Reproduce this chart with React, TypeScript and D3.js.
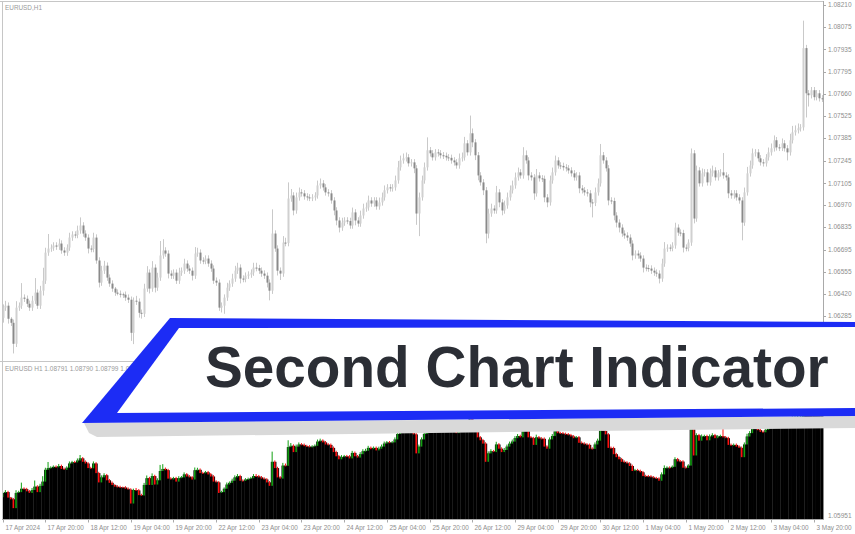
import React from 'react';
import * as d3 from 'd3';

const W = 855;
const H = 534;

const symbolTitle = 'EURUSD,H1';
const subTitle = 'EURUSD H1 1.08791 1.08790 1.08799 1.08790';
const bannerText = 'Second Chart Indicator';

const firstOpen = 1.06272;
const closes = [
  1.06335, 1.06347, 1.06266, 1.06241, 1.06111, 1.06335, 1.06347, 1.06397, 1.06390, 1.06359,
  1.06335, 1.06378, 1.06428, 1.06347, 1.06440, 1.06502, 1.06676, 1.06701, 1.06707, 1.06720,
  1.06713, 1.06732, 1.06689, 1.06676, 1.06707, 1.06769, 1.06788, 1.06785, 1.06813, 1.06844,
  1.06794, 1.06769, 1.06701, 1.06698, 1.06769, 1.06627, 1.06490, 1.06564, 1.06595, 1.06521,
  1.06484, 1.06453, 1.06428, 1.06421, 1.06418, 1.06415, 1.06397, 1.06384, 1.06179, 1.06378,
  1.06372, 1.06303, 1.06297, 1.06453, 1.06552, 1.06453, 1.06583, 1.06459, 1.06521, 1.06658,
  1.06689, 1.06670, 1.06546, 1.06533, 1.06552, 1.06502, 1.06552, 1.06564, 1.06608, 1.06577,
  1.06564, 1.06533, 1.06670, 1.06676, 1.06627, 1.06624, 1.06639, 1.06608, 1.06577, 1.06502,
  1.06490, 1.06335, 1.06347, 1.06397, 1.06459, 1.06484, 1.06515, 1.06564, 1.06583, 1.06515,
  1.06512, 1.06533, 1.06540, 1.06552, 1.06583, 1.06580, 1.06564, 1.06546, 1.06533, 1.06490,
  1.06440, 1.06794, 1.06701, 1.06564, 1.06546, 1.06738, 1.06735, 1.07011, 1.07030, 1.06937,
  1.07018, 1.07049, 1.07043, 1.07024, 1.07018, 1.07015, 1.07018, 1.07030, 1.07092, 1.07105,
  1.07080, 1.07049, 1.07043, 1.06999, 1.06937, 1.06875, 1.06831, 1.06862, 1.06875, 1.06872,
  1.06844, 1.06925, 1.06875, 1.06856, 1.06906, 1.06949, 1.06956, 1.06999, 1.06980, 1.06999,
  1.06962, 1.06987, 1.07018, 1.07062, 1.07080, 1.07074, 1.07080, 1.07123, 1.07204, 1.07247,
  1.07260, 1.07266, 1.07229, 1.07235, 1.07198, 1.06918, 1.07018, 1.07123, 1.07204, 1.07310,
  1.07291, 1.07266, 1.07297, 1.07291, 1.07279, 1.07276, 1.07266, 1.07263, 1.07247, 1.07235,
  1.07216, 1.07260, 1.07266, 1.07353, 1.07297, 1.07415, 1.07359, 1.07279, 1.07154, 1.07111,
  1.07062, 1.06794, 1.06918, 1.06949, 1.06937, 1.07049, 1.06987, 1.06937, 1.06968, 1.07018,
  1.07062, 1.07092, 1.07142, 1.07173, 1.07154, 1.07279, 1.07247, 1.07154, 1.07142, 1.07043,
  1.07154, 1.07136, 1.07133, 1.07018, 1.06987, 1.07123, 1.07173, 1.07247, 1.07216, 1.07213,
  1.07204, 1.07198, 1.07185, 1.07167, 1.07142, 1.07154, 1.07074, 1.07062, 1.07049, 1.07043,
  1.06987, 1.06984, 1.07049, 1.07105, 1.07279, 1.07247, 1.07198, 1.06999, 1.06996, 1.06906,
  1.06862, 1.06831, 1.06794, 1.06782, 1.06769, 1.06732, 1.06658, 1.06670, 1.06658, 1.06639,
  1.06583, 1.06580, 1.06577, 1.06564, 1.06552, 1.06546, 1.06515, 1.06608, 1.06701, 1.06707,
  1.06704, 1.06720, 1.06831, 1.06800, 1.06797, 1.06707, 1.06704, 1.06738, 1.07291, 1.06887,
  1.07185, 1.07105, 1.07167, 1.07173, 1.07111, 1.07167, 1.07185, 1.07142, 1.07167, 1.07173,
  1.07154, 1.07142, 1.07043, 1.07030, 1.07043, 1.07018, 1.06999, 1.06862, 1.07049, 1.07167,
  1.07216, 1.07291, 1.07297, 1.07260, 1.07235, 1.07229, 1.07266, 1.07297, 1.07322, 1.07372,
  1.07328, 1.07325, 1.07353, 1.07322, 1.07297, 1.07372, 1.07421, 1.07434, 1.07446, 1.07452,
  1.07943, 1.07663, 1.07651, 1.07682, 1.07639, 1.07663, 1.07632, 1.07629,
];

// wick lengths in pips, above the body and below the body
const wickUp = [
  2, 3, 2, 1, 2, 4, 2, 9, 2, 2, 2, 3, 9, 2, 3, 8, 3, 9, 2, 2,
  2, 3, 2, 2, 2, 3, 2, 2, 3, 5, 2, 2, 2, 2, 3, 2, 2, 3, 3, 2,
  2, 2, 1, 2, 2, 1, 2, 2, 2, 2, 3, 2, 2, 3, 4, 2, 4, 2, 3, 9,
  7, 2, 2, 2, 2, 2, 3, 2, 3, 2, 2, 2, 4, 3, 2, 2, 2, 2, 2, 2,
  2, 2, 2, 2, 3, 2, 3, 3, 3, 2, 2, 2, 2, 2, 3, 3, 2, 2, 2, 2,
  2, 15, 2, 2, 2, 4, 3, 10, 4, 2, 3, 3, 2, 2, 2, 2, 2, 2, 3, 3,
  2, 2, 2, 2, 2, 2, 2, 3, 2, 2, 2, 3, 2, 2, 3, 3, 3, 3, 2, 2,
  2, 3, 3, 3, 2, 2, 2, 3, 4, 3, 3, 3, 2, 2, 2, 2, 3, 3, 3, 8,
  2, 2, 2, 2, 2, 2, 2, 2, 2, 2, 2, 3, 3, 4, 2, 11, 3, 2, 2, 2,
  2, 2, 3, 3, 2, 4, 2, 2, 3, 3, 3, 3, 3, 3, 2, 5, 3, 2, 2, 2,
  4, 2, 2, 2, 2, 3, 3, 3, 2, 2, 2, 2, 2, 2, 2, 2, 2, 2, 2, 2,
  2, 2, 3, 3, 7, 2, 2, 2, 2, 2, 2, 2, 2, 2, 2, 2, 2, 2, 2, 2,
  2, 2, 2, 2, 2, 2, 2, 3, 4, 2, 2, 2, 3, 2, 2, 2, 2, 2, 3, 2,
  3, 2, 3, 2, 2, 3, 3, 2, 2, 2, 12, 2, 2, 2, 2, 2, 2, 2, 3, 4,
  3, 3, 2, 2, 2, 2, 2, 3, 3, 3, 2, 2, 3, 2, 2, 4, 4, 3, 3, 2,
  17, 2, 2, 2, 2, 2, 2, 2,
];
const wickDown = [
  3, 2, 3, 2, 6, 2, 2, 2, 2, 2, 2, 2, 2, 2, 2, 3, 2, 2, 2, 2,
  2, 2, 2, 2, 2, 2, 2, 2, 2, 2, 2, 2, 3, 2, 2, 2, 3, 2, 2, 2,
  2, 2, 2, 1, 2, 2, 2, 2, 5, 7, 2, 3, 3, 2, 2, 3, 2, 3, 2, 2,
  2, 2, 3, 2, 2, 2, 2, 2, 2, 2, 2, 3, 2, 2, 2, 2, 2, 2, 2, 2,
  2, 2, 3, 5, 2, 2, 2, 2, 2, 3, 2, 2, 2, 2, 2, 2, 2, 2, 2, 3,
  6, 2, 2, 3, 4, 2, 2, 2, 2, 3, 2, 2, 2, 2, 2, 2, 2, 2, 2, 2,
  2, 2, 2, 2, 3, 3, 3, 2, 2, 2, 2, 2, 3, 2, 2, 2, 2, 2, 2, 2,
  2, 2, 2, 2, 2, 2, 2, 2, 2, 2, 2, 2, 2, 2, 3, 7, 14, 2, 2, 2,
  2, 2, 2, 2, 2, 2, 2, 2, 2, 2, 2, 2, 2, 2, 2, 2, 3, 3, 3, 2,
  3, 6, 3, 2, 2, 2, 3, 3, 2, 2, 2, 2, 2, 2, 2, 2, 2, 3, 2, 4,
  2, 2, 2, 3, 3, 2, 2, 2, 2, 2, 2, 2, 2, 2, 2, 2, 3, 2, 2, 2,
  3, 9, 2, 2, 2, 2, 2, 3, 2, 3, 3, 3, 2, 2, 2, 2, 3, 2, 2, 2,
  3, 2, 2, 2, 2, 2, 3, 2, 2, 2, 2, 2, 2, 2, 2, 3, 2, 2, 2, 3,
  2, 2, 2, 2, 2, 2, 2, 2, 2, 2, 2, 2, 3, 2, 2, 2, 2, 11, 2, 2,
  2, 2, 2, 2, 2, 2, 2, 2, 2, 2, 2, 2, 2, 2, 5, 2, 2, 2, 2, 2,
  2, 15, 7, 2, 2, 2, 2, 2,
];

const upperTickLabels = [
  '1.08210', '1.08075', '1.07935', '1.07795', '1.07660', '1.07525', '1.07385', '1.07245',
  '1.07105', '1.06970', '1.06835', '1.06695', '1.06555', '1.06420', '1.06285',
];
const lowerMin = 1.05951;
const lowerMax = 1.08235;
const lowerTickLabels = ['1.05951'];

const timeLabels = [
  '17 Apr 2024', '17 Apr 20:00', '18 Apr 12:00', '19 Apr 04:00', '19 Apr 20:00', '22 Apr 12:00',
  '23 Apr 04:00', '23 Apr 20:00', '24 Apr 12:00', '25 Apr 04:00', '25 Apr 20:00', '26 Apr 12:00',
  '29 Apr 04:00', '29 Apr 20:00', '30 Apr 12:00', '1 May 04:00', '1 May 20:00', '2 May 12:00',
  '3 May 04:00', '3 May 20:00',
];
const barsPerTimeLabel = 16;

const PIP = 0.0001;
const FONT = "'Liberation Sans', Arial, sans-serif";

export default function App() {
  const bars = closes.map((c, i) => {
    const o = i === 0 ? firstOpen : closes[i - 1];
    return {
      o,
      c,
      h: Math.max(o, c) + wickUp[i] * PIP,
      l: Math.min(o, c) - wickDown[i] * PIP,
    };
  });

  const axisX = 823.5;
  const x = d3.scaleLinear().domain([0, 304]).range([2.7, 813.7]);
  const step = x(1) - x(0);
  const yU = d3
    .scaleLinear()
    .domain([+upperTickLabels[upperTickLabels.length - 1], +upperTickLabels[0]])
    .range([315.7, 5]);
  const lowerTop = 364;
  const lowerBottom = 519;
  const yL = d3.scaleLinear().domain([lowerMin, lowerMax]).range([lowerBottom, lowerTop]);

  const labelColor = '#8e8e8e';

  // banner geometry
  const outer = [
    [170, 318],
    [W, 322],
    [W, 416],
    [82, 423],
  ];
  const inner = [
    [179, 328],
    [W, 327],
    [W, 408],
    [117, 413],
  ];
  const shadow = [
    [84, 423],
    [W, 416],
    [W, 428],
    [97, 437],
    [89, 433],
  ];
  const poly = (pts: number[][]) => pts.map((p) => p.join(',')).join(' ');

  return (
    <svg
      width={W}
      height={H}
      viewBox={`0 0 ${W} ${H}`}
      style={{ position: 'fixed', left: 0, top: 0, display: 'block', background: '#fff' }}
    >
      <defs>
        <clipPath id="upperClip">
          <rect x={3} y={2} width={axisX - 3} height={359} />
        </clipPath>
        <clipPath id="lowerClip">
          <rect x={3} y={363} width={axisX - 3} height={lowerBottom - 363} />
        </clipPath>
      </defs>
      <rect x={0} y={0} width={W} height={H} fill="#ffffff" />

      {/* Upper chart frame */}
      <line x1={0} x2={axisX} y1={1.5} y2={1.5} stroke="#c6c6c6" />
      <line x1={2.5} x2={2.5} y1={1.5} y2={361.5} stroke="#c6c6c6" />
      <line x1={axisX} x2={axisX} y1={1} y2={361.5} stroke="#a9a9a9" />
      <text x={5} y={9.5} fontFamily={FONT} fontSize={6.4} fill="#9a9a9a">
        {symbolTitle}
      </text>

      {/* Upper price axis */}
      {upperTickLabels.map((t) => {
        const yy = yU(+t);
        return (
          <g key={t}>
            <line x1={axisX} x2={axisX + 2.5} y1={Math.round(yy) + 0.5} y2={Math.round(yy) + 0.5} stroke="#a9a9a9" />
            <text x={828} y={yy + 2.3} fontFamily={FONT} fontSize={6.5} fill={labelColor}>
              {t}
            </text>
          </g>
        );
      })}

      {/* Upper candles */}
      <g clipPath="url(#upperClip)">
        {bars.map((b, i) => {
          const cx = Math.round(x(i));
          const top = yU(Math.max(b.o, b.c));
          const bot = yU(Math.min(b.o, b.c));
          const up = b.c >= b.o;
          return (
            <g key={i}>
              <line x1={cx + 0.5} x2={cx + 0.5} y1={yU(b.h)} y2={yU(b.l)} stroke="#c9c9c9" strokeWidth={1} />
              <rect
                x={cx - 0.5}
                y={top}
                width={2}
                height={Math.max(1, bot - top)}
                fill={up ? '#d0d0d0' : '#8a8a8a'}
              />
            </g>
          );
        })}
      </g>

      {/* Lower panel frame */}
      <line x1={0} x2={axisX} y1={361.5} y2={361.5} stroke="#c6c6c6" />
      <line x1={2.5} x2={2.5} y1={361.5} y2={lowerBottom + 0.5} stroke="#c6c6c6" />
      <line x1={axisX} x2={axisX} y1={361.5} y2={lowerBottom + 1} stroke="#a9a9a9" />
      <text x={5} y={370.5} fontFamily={FONT} fontSize={6.5} fill="#9a9a9a">
        {subTitle}
      </text>

      {/* Lower panel bars */}
      <g clipPath="url(#lowerClip)">
        {bars.map((b, i) => {
          const cx = x(i);
          const top = yL(Math.max(b.o, b.c));
          return (
            <rect key={'k' + i} x={cx - step / 2} y={top} width={step + 0.3} height={lowerBottom - top} fill="#000" />
          );
        })}
        {bars.map((b, i) => {
          const cx = x(i);
          const top = yL(Math.max(b.o, b.c));
          const bot = yL(Math.min(b.o, b.c));
          const col = b.c >= b.o ? '#12a012' : '#ff1010';
          return (
            <g key={'c' + i}>
              <line x1={cx} x2={cx} y1={yL(b.h)} y2={top} stroke={col} strokeWidth={1} />
              <rect x={cx - 0.8} y={top} width={1.6} height={Math.max(0.8, bot - top)} fill={col} />
            </g>
          );
        })}
      </g>
      {lowerTickLabels.map((t) => (
        <text key={t} x={828} y={yL(+t) - 1} fontFamily={FONT} fontSize={6.5} fill={labelColor}>
          {t}
        </text>
      ))}

      {/* Time axis */}
      <line x1={2} x2={axisX} y1={lowerBottom + 0.5} y2={lowerBottom + 0.5} stroke="#a9a9a9" />
      {timeLabels.map((t, k) => {
        const xx = Math.round(x(k * barsPerTimeLabel)) + 0.5;
        return (
          <g key={t}>
            <line x1={xx} x2={xx} y1={lowerBottom + 0.5} y2={lowerBottom + 3.5} stroke="#a9a9a9" />
            <text x={xx + 2} y={529.5} fontFamily={FONT} fontSize={6.4} fill={labelColor}>
              {t}
            </text>
          </g>
        );
      })}

      {/* Banner */}
      <polygon points={poly(shadow)} fill="#d9d9d9" />
      <polygon points={poly(outer)} fill="#1c2cf5" />
      <polygon points={poly(inner)} fill="#ffffff" />
      <text
        x={205}
        y={387}
        fontFamily={FONT}
        fontWeight={700}
        fontSize={56.7}
        fill="#2b2e35"
      >
        {bannerText}
      </text>
    </svg>
  );
}
